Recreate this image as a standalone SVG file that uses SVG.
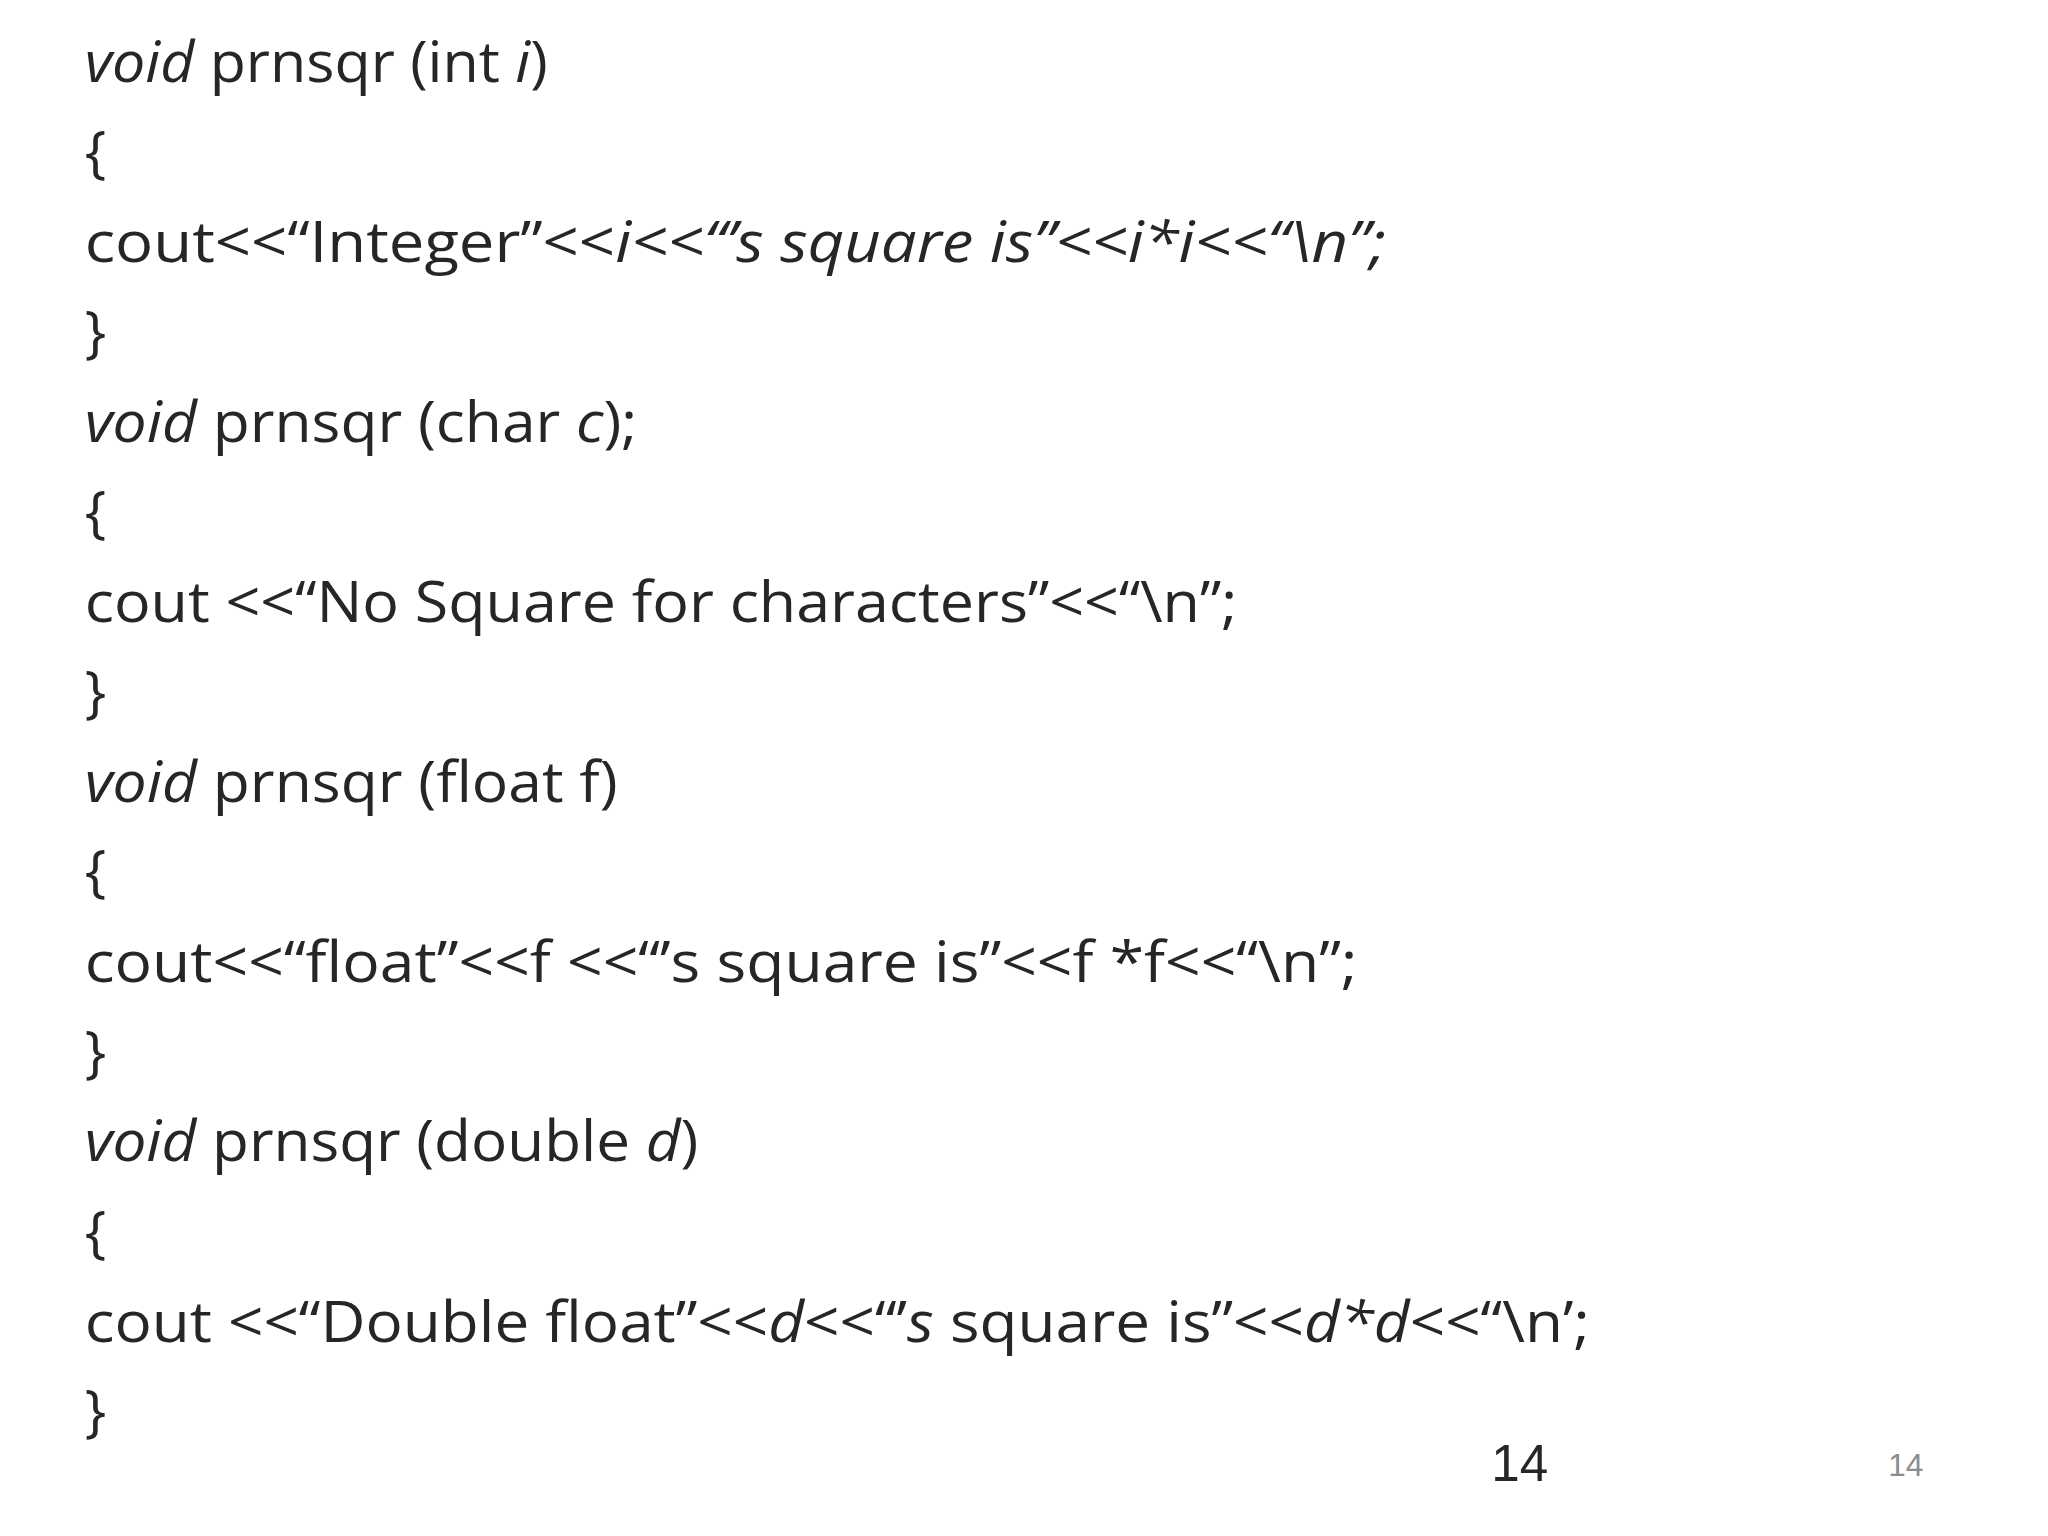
<svg xmlns="http://www.w3.org/2000/svg" width="2048" height="1536" viewBox="0 0 2048 1536">
<style>
.t{font-family:"Open Sans","Liberation Sans",sans-serif;font-size:58px;fill:#262626}
.i{font-style:italic}
</style>
<rect width="2048" height="1536" fill="#fff"/>
<g transform="scale(0.985)">
<g id="code">
<text class="t" x="86" y="83" textLength="470" lengthAdjust="spacingAndGlyphs"><tspan class="i">void</tspan> prnsqr (int <tspan class="i">i</tspan>)</text>
<text class="t" x="86" y="175">{</text>
<text class="t" x="86" y="266" textLength="1321" lengthAdjust="spacingAndGlyphs">cout&lt;&lt;“Integer”&lt;&lt;<tspan class="i">i&lt;&lt;“’s square is”&lt;&lt;i*i&lt;&lt;“\n”;</tspan></text>
<text class="t" x="86" y="357">}</text>
<text class="t" x="86" y="449" textLength="561" lengthAdjust="spacingAndGlyphs"><tspan class="i">void</tspan> prnsqr (char <tspan class="i">c</tspan>);</text>
<text class="t" x="86" y="540">{</text>
<text class="t" x="86" y="631" textLength="1170" lengthAdjust="spacingAndGlyphs">cout &lt;&lt;“No Square for characters”&lt;&lt;“\n”;</text>
<text class="t" x="86" y="723">}</text>
<text class="t" x="86" y="814" textLength="541" lengthAdjust="spacingAndGlyphs"><tspan class="i">void</tspan> prnsqr (float f)</text>
<text class="t" x="86" y="905">{</text>
<text class="t" x="86" y="997" textLength="1292" lengthAdjust="spacingAndGlyphs">cout&lt;&lt;“float”&lt;&lt;f &lt;&lt;“’s square is”&lt;&lt;f *f&lt;&lt;“\n”;</text>
<text class="t" x="86" y="1088">}</text>
<text class="t" x="86" y="1179" textLength="623" lengthAdjust="spacingAndGlyphs"><tspan class="i">void</tspan> prnsqr (double <tspan class="i">d</tspan>)</text>
<text class="t" x="86" y="1271">{</text>
<text class="t" x="86" y="1362" textLength="1528" lengthAdjust="spacingAndGlyphs">cout &lt;&lt;“Double float”&lt;&lt;<tspan class="i">d</tspan>&lt;&lt;“’<tspan class="i">s</tspan> square is”&lt;&lt;<tspan class="i">d*d</tspan>&lt;&lt;“\n’;</text>
<text class="t" x="86" y="1453">}</text>
</g>
<text x="1514" y="1504" font-family="Liberation Sans,Arial,sans-serif" font-size="52" fill="#262626">14</text>
<text x="1917" y="1498" font-family="Liberation Sans,Arial,sans-serif" font-size="32" fill="#8c8c8c">14</text>
</g>
</svg>
